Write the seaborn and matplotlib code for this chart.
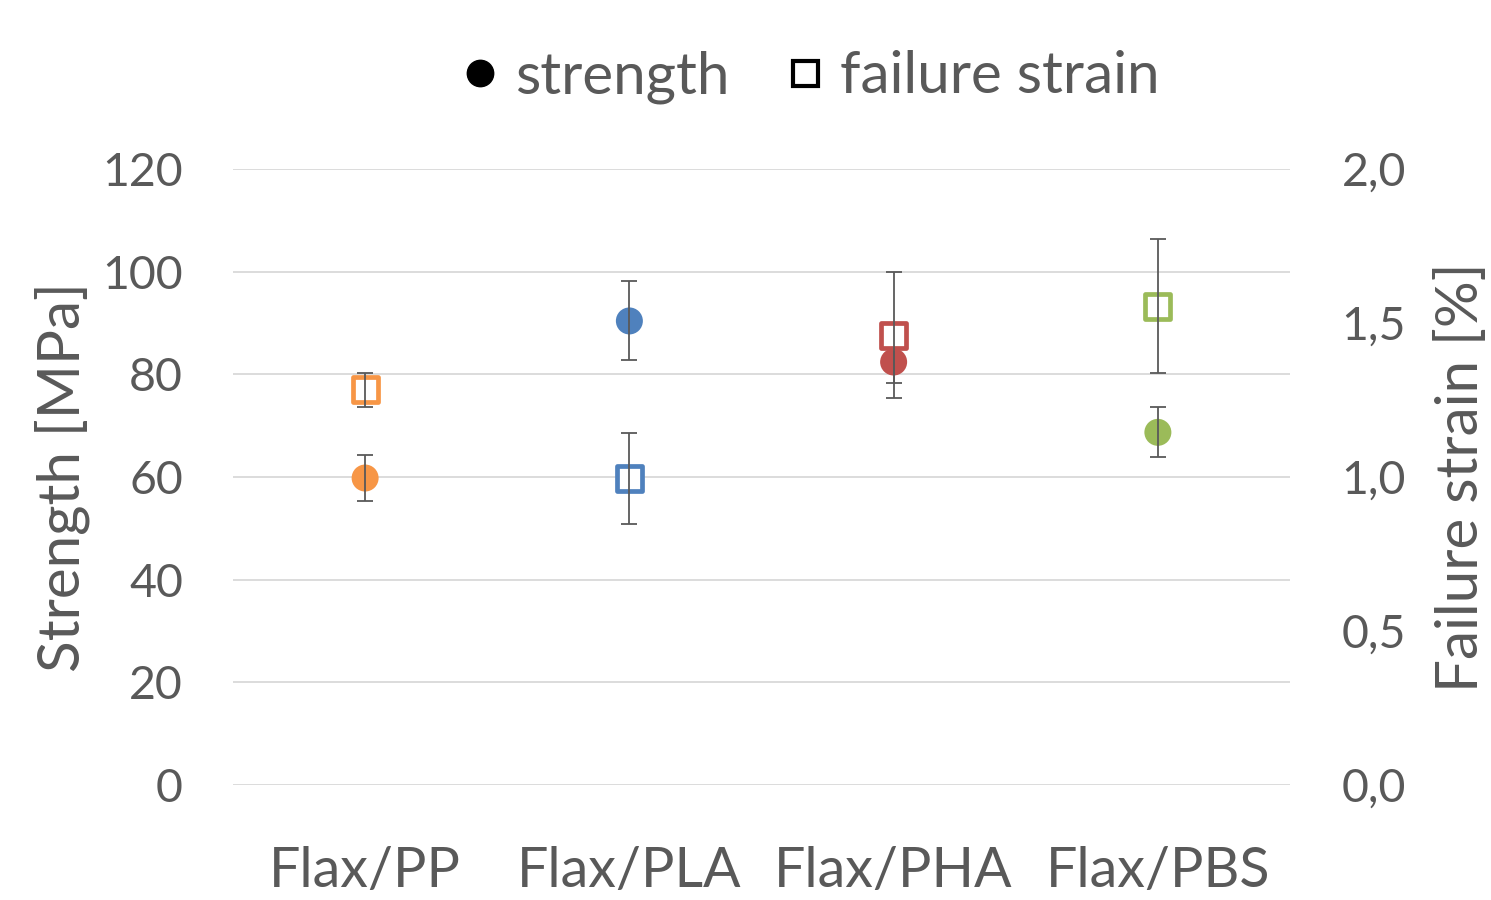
import matplotlib
matplotlib.use("Agg")
import matplotlib.pyplot as plt
import seaborn as sns
import pandas as pd
from matplotlib.lines import Line2D

categories = ["Flax/PP", "Flax/PLA", "Flax/PHA", "Flax/PBS"]
strength = [59.8, 90.4, 82.4, 68.7]
strength_err = [4.5, 7.7, 4.1, 4.9]
strain = [1.283, 0.996, 1.461, 1.555]
strain_err = [0.055, 0.147, 0.203, 0.218]
colors = ["#F79646", "#4F81BD", "#C0504D", "#9BBB59"]
left_ticks = [0, 20, 40, 60, 80, 100, 120]
right_ticks = [0.0, 0.5, 1.0, 1.5, 2.0]

sns.set_theme(style="white")
plt.rcParams['font.family'] = ['Lato', 'DejaVu Sans']
gray = "#595959"

df = pd.DataFrame({"cat": categories, "strength": strength, "s_err": strength_err,
                   "strain": strain, "e_err": strain_err})

fig = plt.figure(figsize=(14.91, 9.0), dpi=100)
ax = fig.add_axes([233/1491, 1-785/900, (1290-233)/1491, (785-169)/900])
ax2 = ax.twinx()

# strength
sns.scatterplot(data=df, x="cat", y="strength", hue="cat", palette=colors, marker="o",
                s=(27*0.72)**2, edgecolor="none", legend=False, ax=ax, zorder=3)
xs = list(range(len(categories)))
ax.errorbar(xs, strength, yerr=strength_err, fmt="none", ecolor=gray, elinewidth=1.3,
            capsize=6, capthick=1.3, zorder=4)

# failure strain
sns.scatterplot(data=df, x="cat", y="strain", hue="cat", palette=["white"]*4, marker="s",
                s=(25*0.72)**2, legend=False, ax=ax2, zorder=3, linewidth=3.4)
coll = ax2.collections[-1]
coll.set_edgecolor(colors)
coll.set_facecolor("white")
ax2.errorbar(xs, strain, yerr=strain_err, fmt="none", ecolor=gray, elinewidth=1.3,
             capsize=6, capthick=1.3, zorder=4)

ax.set_xlim(-0.5, 3.5)
ax.set_ylim(0, 120)
ax2.set_ylim(0, 2.0)
ax.set_yticks(left_ticks)
ax2.set_yticks(right_ticks)
ax2.set_yticklabels([f"{v:.1f}".replace(".", ",") for v in right_ticks])
ax.set_xticks(xs)
ax.set_xticklabels(categories)

ax.grid(axis="y", color="#D9D9D9", linewidth=1.3)
ax.set_axisbelow(True)
for a in (ax, ax2):
    for s in a.spines.values():
        s.set_visible(False)
    a.tick_params(length=0, colors=gray, labelsize=33.5)
ax.tick_params(axis="x", labelsize=40, pad=44)
ax.tick_params(axis="y", pad=36)
ax2.tick_params(axis="y", pad=37)
ax.set_xlabel("")
ax.set_ylabel("Strength [MPa]", fontsize=42, color=gray, labelpad=9)
ax2.set_ylabel("Failure strain [%]", fontsize=42, color=gray, labelpad=21)

handles = [Line2D([], [], marker="o", color="black", linestyle="none", markersize=19),
           Line2D([], [], marker="s", markerfacecolor="white", markeredgecolor="black",
                  markeredgewidth=3, linestyle="none", markersize=18)]
leg = fig.legend(handles, ["strength", "failure strain"], loc="center",
                 bbox_to_anchor=(808/1491, 1-77/900), ncol=2, frameon=False,
                 fontsize=42, handletextpad=0.2, columnspacing=0.9, handlelength=0.8)
for t in leg.get_texts():
    t.set_color(gray)

fig.savefig("out.png", dpi=100)
